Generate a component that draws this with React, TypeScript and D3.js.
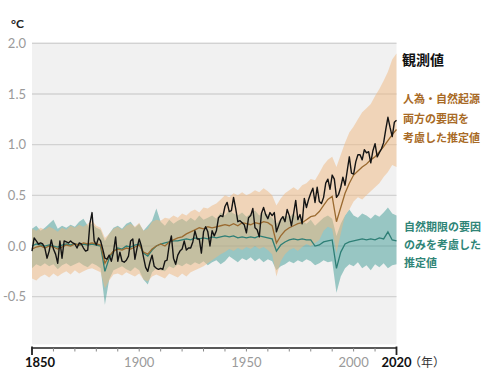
import React from "react";
import * as d3 from "d3";

// ---- data ----
const obsStartYear = 1850;
const observed: number[] = [
  -0.05, 0.08, 0.05, 0.02, 0.03, 0.02, -0.02, -0.12, -0.05, 0.06,
  -0.03, -0.08, -0.17, 0.05, -0.12, 0.05, 0.04, 0.03, 0.05, 0.03,
  0.02, -0.02, 0.03, 0.02, -0.02, -0.05, -0.04, 0.22, 0.33, 0.05,
  0.01, 0.08, 0.05, -0.03, -0.12, -0.13, -0.09, -0.15, -0.06, 0.09,
  -0.15, -0.06, -0.15, -0.16, -0.14, -0.1, 0.05, 0.07, -0.13, -0.02,
  0.07, 0.0, -0.11, -0.21, -0.25, -0.16, -0.09, -0.2, -0.22, -0.23,
  -0.22, -0.23, -0.15, -0.14, 0.01, 0.1, -0.12, -0.18, -0.09, -0.05,
  -0.03, 0.05, -0.04, -0.02, -0.02, 0.04, 0.15, 0.07, 0.07, -0.07,
  0.14, 0.19, 0.14, 0.0, 0.15, 0.1, 0.15, 0.28, 0.3, 0.29,
  0.39, 0.43, 0.34, 0.35, 0.48, 0.37, 0.24, 0.25, 0.23, 0.21,
  0.13, 0.28, 0.3, 0.37, 0.18, 0.16, 0.09, 0.32, 0.38, 0.31,
  0.27, 0.33, 0.3, 0.33, 0.14, 0.2, 0.26, 0.29, 0.24, 0.36,
  0.3, 0.2, 0.32, 0.45, 0.26, 0.31, 0.22, 0.47, 0.38, 0.46,
  0.52, 0.57, 0.43, 0.58, 0.44, 0.42, 0.48, 0.62, 0.66, 0.56,
  0.7, 0.66, 0.48, 0.51, 0.58, 0.68, 0.6, 0.74, 0.88, 0.72,
  0.71, 0.83, 0.9, 0.9, 0.85, 0.95, 0.92, 0.93, 0.82, 0.94,
  1.01, 0.88, 0.92, 0.96, 1.02, 1.15, 1.27, 1.17, 1.08, 1.22,
  1.24,
];

const modelYears: number[] = d3.range(1850, 2021, 2);

const humanMean: number[] = [
  -0.03, -0.01, 0.0, -0.02, 0.0, -0.01, -0.03, -0.01, 0.01, 0.0,
  0.02, 0.01, 0.03, 0.02, 0.03, 0.02, 0.01, -0.17, -0.1, -0.05,
  -0.03, -0.04, -0.02, -0.03, -0.01, 0.01, -0.06, -0.08, -0.03, 0.0,
  0.02, 0.0, 0.04, 0.06, 0.08, 0.09, 0.12, 0.14, 0.16, 0.18,
  0.17, 0.19, 0.18, 0.19, 0.2, 0.21, 0.2, 0.22, 0.2, 0.23,
  0.22, 0.21, 0.23, 0.22, 0.24, 0.23, 0.2, 0.03, 0.1, 0.15,
  0.18, 0.2, 0.22, 0.23, 0.26, 0.29, 0.3, 0.34, 0.4, 0.46,
  0.49, 0.24, 0.38, 0.52, 0.62, 0.7, 0.74, 0.78, 0.81, 0.85,
  0.88, 0.93, 0.98, 1.04, 1.1, 1.15,
];
const humanUpper: number[] = [
  0.17, 0.15, 0.18, 0.16, 0.19, 0.17, 0.14, 0.18, 0.16, 0.2,
  0.18, 0.21, 0.19, 0.22, 0.25, 0.2, 0.18, 0.08, 0.12, 0.17,
  0.19, 0.16, 0.2, 0.22, 0.19, 0.23, 0.15, 0.17, 0.24, 0.26,
  0.25, 0.28, 0.27, 0.3, 0.28, 0.32, 0.3, 0.34, 0.36, 0.33,
  0.38, 0.37, 0.4, 0.42, 0.46, 0.5, 0.48, 0.52, 0.5, 0.53,
  0.5, 0.52, 0.55, 0.53, 0.57, 0.54, 0.5, 0.4, 0.47, 0.52,
  0.55, 0.58, 0.55, 0.6, 0.62, 0.66, 0.65, 0.72, 0.8, 0.85,
  0.88, 0.78, 0.9, 1.02, 1.12, 1.18, 1.25, 1.32, 1.36, 1.4,
  1.48, 1.55, 1.63, 1.72, 1.84, 1.9,
];
const humanLower: number[] = [
  -0.32, -0.34, -0.3, -0.28, -0.31, -0.27, -0.3, -0.27, -0.25, -0.28,
  -0.24, -0.27, -0.25, -0.23, -0.22, -0.24, -0.26, -0.42, -0.34, -0.28,
  -0.27, -0.29, -0.26, -0.28, -0.3, -0.27, -0.33, -0.35, -0.3, -0.28,
  -0.3, -0.32, -0.27, -0.29, -0.31, -0.27, -0.3, -0.26, -0.24, -0.22,
  -0.2, -0.17, -0.14, -0.11, -0.08, -0.06, -0.03, -0.05, -0.02, -0.04,
  -0.01, -0.03, 0.0, -0.03, -0.01, -0.04, -0.08, -0.3, -0.15, -0.08,
  -0.04, -0.02, -0.05, -0.01, 0.02, 0.0, 0.03, 0.06, 0.15, 0.19,
  0.17, -0.07, 0.12, 0.3, 0.36, 0.44, 0.48, 0.46, 0.5, 0.54,
  0.58, 0.62, 0.68, 0.73, 0.8, 0.78,
];

const naturalMean: number[] = [
  0.0, 0.02, 0.01, 0.0, 0.01, 0.0, -0.01, 0.01, 0.02, 0.01,
  0.02, 0.01, 0.02, 0.01, 0.02, 0.01, 0.0, -0.25, -0.12, -0.05,
  -0.02, -0.03, 0.0, -0.01, 0.01, 0.02, -0.07, -0.1, -0.04, 0.0,
  0.02, 0.03, 0.04, 0.05, 0.05, 0.06, 0.07, 0.06, 0.08, 0.07,
  0.08, 0.07, 0.09, 0.08, 0.09, 0.1, 0.09, 0.1, 0.08, 0.09,
  0.08, 0.09, 0.08, 0.1, 0.09, 0.08, 0.07, -0.05, 0.01, 0.04,
  0.06, 0.07, 0.06, 0.07, 0.06, 0.06, 0.0, 0.01, 0.04, 0.05,
  0.06, -0.22, -0.06, 0.02, 0.04, 0.05, 0.06, 0.07, 0.06, 0.07,
  0.06, 0.08, 0.07, 0.14, 0.06, 0.05,
];
const naturalUpper: number[] = [
  0.17, 0.2, 0.15, 0.18, 0.22, 0.26, 0.17, 0.2, 0.18, 0.21,
  0.19, 0.24, 0.27, 0.2, 0.22, 0.18, 0.16, 0.05, 0.12, 0.18,
  0.2, 0.17, 0.22, 0.24, 0.18, 0.22, 0.15, 0.2, 0.25, 0.37,
  0.24, 0.2, 0.26, 0.22, 0.25, 0.27, 0.24, 0.28, 0.25, 0.3,
  0.26, 0.28, 0.3, 0.27, 0.33, 0.3, 0.35, 0.32, 0.3, 0.33,
  0.29, 0.32, 0.35, 0.3, 0.33, 0.31, 0.28, 0.22, 0.27, 0.3,
  0.29, 0.32, 0.27, 0.25, 0.22, 0.26, 0.2, 0.24, 0.28, 0.3,
  0.27, 0.1, 0.22, 0.3, 0.36, 0.3, 0.28, 0.32, 0.3, 0.27,
  0.31, 0.29, 0.33, 0.38, 0.32, 0.3,
];
const naturalLower: number[] = [
  -0.22, -0.18, -0.2, -0.17, -0.2, -0.18, -0.23, -0.19, -0.17, -0.2,
  -0.18, -0.16, -0.19, -0.21, -0.17, -0.19, -0.22, -0.58, -0.33, -0.24,
  -0.22, -0.2, -0.23, -0.25, -0.21, -0.24, -0.33, -0.38, -0.26, -0.22,
  -0.24, -0.25, -0.2, -0.22, -0.18, -0.2, -0.17, -0.19, -0.16, -0.18,
  -0.15, -0.19, -0.16, -0.14, -0.18, -0.15, -0.1, -0.13, -0.16, -0.12,
  -0.14, -0.11, -0.15, -0.12, -0.16, -0.13, -0.15, -0.24, -0.2, -0.18,
  -0.15, -0.17, -0.14, -0.16, -0.13, -0.15, -0.19, -0.17, -0.14, -0.16,
  -0.15, -0.46, -0.3, -0.22, -0.18, -0.2, -0.16, -0.22, -0.19, -0.24,
  -0.18, -0.21, -0.17, -0.22, -0.19, -0.18,
];

const yTicks: number[] = [2.0, 1.5, 1.0, 0.5, 0.0, -0.5];
const xMinorTicks: number[] = d3.range(1850, 2021, 10);
const xGreyLabels: number[] = [1900, 1950, 2000];

const observedLabel = "観測値";
const humanLabel = ["人為・自然起源", "両方の要因を", "考慮した推定値"];
const naturalLabel = ["自然期限の要因", "のみを考慮した", "推定値"];

const FONT = "Lato, 'Noto Sans', sans-serif";
const JP = "'Noto Sans CJK JP', 'Noto Sans', sans-serif";

export default function App() {
  const W = 486;
  const H = 375;
  const x = d3.scaleLinear().domain([1850, 2020]).range([32, 396.5]);
  const y = d3.scaleLinear().domain([-0.5, 2.0]).range([296.7, 43.3]);

  const obsPts: [number, number][] = observed.map((v, i) => [obsStartYear + i, v]);
  const line = d3
    .line<[number, number]>()
    .x((d) => x(d[0]))
    .y((d) => y(d[1]));
  const band = d3
    .area<number>()
    .x((_, i) => x(modelYears[i]))
    .y0((_, i) => 0)
    .y1((_, i) => 0);

  const mkBand = (lo: number[], hi: number[]) =>
    d3
      .area<number>()
      .x((yr) => x(yr))
      .y0((_, i) => y(lo[i]))
      .y1((_, i) => y(hi[i]))(modelYears) as string;

  const mkLine = (vals: number[]) =>
    line(modelYears.map((yr, i) => [yr, vals[i]] as [number, number])) as string;

  void band;

  const plotTop = y(2.0) - 1;
  const plotBottom = y(-0.97);
  const axisY = 348;

  return (
    <svg width={W} height={H} style={{ position: "absolute", left: 0, top: 0, background: "#fff" }}>
      <rect x={x(1850)} y={plotTop} width={x(2020) - x(1850)} height={plotBottom - plotTop} fill="#f1f1f1" />
      {yTicks.map((t) => (
        <g key={t}>
          <line x1={x(1850)} x2={x(2020)} y1={y(t)} y2={y(t)} stroke="#d2d2d2" strokeWidth={1.3} />
          <text
            x={26}
            y={y(t)}
            dy="0.35em"
            textAnchor="end"
            fontFamily={FONT}
            fontSize={13}
            fill="#9a9a9a"
          >
            {t.toFixed(1)}
          </text>
        </g>
      ))}
      <text x={11} y={28} fontFamily={FONT} fontSize={12} fontWeight={700} fill="#222">
        °C
      </text>

      <path d={mkBand(naturalLower, naturalUpper)} fill="#4fa29c" fillOpacity={0.55} />
      <path d={mkBand(humanLower, humanUpper)} fill="#f0b880" fillOpacity={0.5} />

      <path d={mkLine(naturalMean)} fill="none" stroke="#2e7f76" strokeWidth={1.3} />
      <path d={mkLine(humanMean)} fill="none" stroke="#9a6a30" strokeWidth={1.3} />
      <path d={line(obsPts) as string} fill="none" stroke="#141414" strokeWidth={1.4} strokeLinejoin="round" />

      {/* x axis */}
      <line x1={x(1850)} x2={x(2020)} y1={axisY} y2={axisY} stroke="#222" strokeWidth={1.5} />
      {xMinorTicks.map((t) => (
        <line key={t} x1={x(t)} x2={x(t)} y1={axisY} y2={axisY + 3.5} stroke="#888" strokeWidth={1} />
      ))}
      {[1850, 2020].map((t) => (
        <line key={"e" + t} x1={x(t)} x2={x(t)} y1={axisY - 1.5} y2={axisY + 7} stroke="#222" strokeWidth={1.8} />
      ))}
      {xGreyLabels.map((t) => (
        <text key={t} x={x(t)} y={367} textAnchor="middle" fontFamily={FONT} fontSize={13} fill="#9a9a9a">
          {t}
        </text>
      ))}
      <text x={25} y={367} fontFamily={FONT} fontSize={13} fontWeight={700} fill="#111">
        1850
      </text>
      <text x={x(2020)} y={367} textAnchor="middle" fontFamily={FONT} fontSize={13} fontWeight={700} fill="#111">
        2020
      </text>
      <text x={409} y={367} fontFamily={JP} fontSize={12} fill="#333">
        （年）
      </text>

      {/* legends */}
      <text x={402} y={65} fontFamily={JP} fontSize={14} fontWeight={700} fill="#111">
        {observedLabel}
      </text>
      {humanLabel.map((s, i) => (
        <text key={s} x={403} y={103 + i * 19.5} fontFamily={JP} fontSize={11} fontWeight={700} fill="#a86a26">
          {s}
        </text>
      ))}
      {naturalLabel.map((s, i) => (
        <text key={s} x={404} y={231 + i * 18} fontFamily={JP} fontSize={11} fontWeight={700} fill="#2f8577">
          {s}
        </text>
      ))}
    </svg>
  );
}
